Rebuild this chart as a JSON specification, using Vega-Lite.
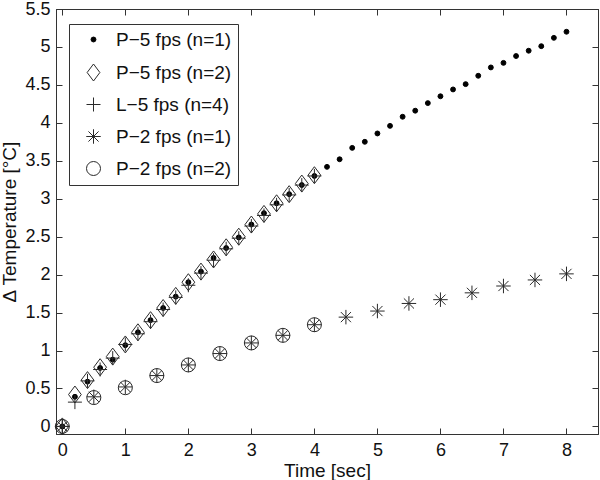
{
  "$schema": "https://vega.github.io/schema/vega-lite/v6.json",
  "width": 542,
  "height": 425,
  "autosize": "none",
  "padding": {"left": 56, "top": 9, "right": 2, "bottom": 46},
  "background": "white",
  "config": {
    "font": "Liberation Sans",
    "view": {"stroke": "#333", "strokeWidth": 1},
    "axis": {
      "labelFont": "Liberation Sans",
      "titleFont": "Liberation Sans",
      "labelFontSize": 18,
      "titleFontSize": 19,
      "titleFontWeight": "normal",
      "labelColor": "#111",
      "titleColor": "#111",
      "domainColor": "#333",
      "tickColor": "#333",
      "tickSize": -6,
      "grid": false,
      "labelPadding": 12
    },
    "legend": {
      "labelFont": "Liberation Sans",
      "labelFontSize": 19,
      "labelColor": "#111"
    }
  },
  "data": {
    "values": [
      {"series": "P\u22125 fps (n=1)", "t": 0, "v": 0},
      {"series": "P\u22125 fps (n=1)", "t": 0.2, "v": 0.39},
      {"series": "P\u22125 fps (n=1)", "t": 0.4, "v": 0.59},
      {"series": "P\u22125 fps (n=1)", "t": 0.6, "v": 0.77},
      {"series": "P\u22125 fps (n=1)", "t": 0.8, "v": 0.88},
      {"series": "P\u22125 fps (n=1)", "t": 1.0, "v": 1.07},
      {"series": "P\u22125 fps (n=1)", "t": 1.2, "v": 1.24},
      {"series": "P\u22125 fps (n=1)", "t": 1.4, "v": 1.40},
      {"series": "P\u22125 fps (n=1)", "t": 1.6, "v": 1.56},
      {"series": "P\u22125 fps (n=1)", "t": 1.8, "v": 1.71},
      {"series": "P\u22125 fps (n=1)", "t": 2.0, "v": 1.90},
      {"series": "P\u22125 fps (n=1)", "t": 2.2, "v": 2.04},
      {"series": "P\u22125 fps (n=1)", "t": 2.4, "v": 2.22},
      {"series": "P\u22125 fps (n=1)", "t": 2.6, "v": 2.35},
      {"series": "P\u22125 fps (n=1)", "t": 2.8, "v": 2.49},
      {"series": "P\u22125 fps (n=1)", "t": 3.0, "v": 2.66},
      {"series": "P\u22125 fps (n=1)", "t": 3.2, "v": 2.81},
      {"series": "P\u22125 fps (n=1)", "t": 3.4, "v": 2.94},
      {"series": "P\u22125 fps (n=1)", "t": 3.6, "v": 3.06},
      {"series": "P\u22125 fps (n=1)", "t": 3.8, "v": 3.18},
      {"series": "P\u22125 fps (n=1)", "t": 4.0, "v": 3.30},
      {"series": "P\u22125 fps (n=1)", "t": 4.2, "v": 3.42},
      {"series": "P\u22125 fps (n=1)", "t": 4.4, "v": 3.52},
      {"series": "P\u22125 fps (n=1)", "t": 4.6, "v": 3.67},
      {"series": "P\u22125 fps (n=1)", "t": 4.8, "v": 3.75},
      {"series": "P\u22125 fps (n=1)", "t": 5.0, "v": 3.86},
      {"series": "P\u22125 fps (n=1)", "t": 5.2, "v": 3.96},
      {"series": "P\u22125 fps (n=1)", "t": 5.4, "v": 4.08},
      {"series": "P\u22125 fps (n=1)", "t": 5.6, "v": 4.16},
      {"series": "P\u22125 fps (n=1)", "t": 5.8, "v": 4.26},
      {"series": "P\u22125 fps (n=1)", "t": 6.0, "v": 4.35},
      {"series": "P\u22125 fps (n=1)", "t": 6.2, "v": 4.44},
      {"series": "P\u22125 fps (n=1)", "t": 6.4, "v": 4.51},
      {"series": "P\u22125 fps (n=1)", "t": 6.6, "v": 4.62},
      {"series": "P\u22125 fps (n=1)", "t": 6.8, "v": 4.73},
      {"series": "P\u22125 fps (n=1)", "t": 7.0, "v": 4.79},
      {"series": "P\u22125 fps (n=1)", "t": 7.2, "v": 4.88},
      {"series": "P\u22125 fps (n=1)", "t": 7.4, "v": 4.95},
      {"series": "P\u22125 fps (n=1)", "t": 7.6, "v": 5.01},
      {"series": "P\u22125 fps (n=1)", "t": 7.8, "v": 5.12},
      {"series": "P\u22125 fps (n=1)", "t": 8.0, "v": 5.20},
      {"series": "P\u22125 fps (n=2)", "t": 0, "v": 0},
      {"series": "P\u22125 fps (n=2)", "t": 0.2, "v": 0.42},
      {"series": "P\u22125 fps (n=2)", "t": 0.4, "v": 0.61},
      {"series": "P\u22125 fps (n=2)", "t": 0.6, "v": 0.78},
      {"series": "P\u22125 fps (n=2)", "t": 0.8, "v": 0.92},
      {"series": "P\u22125 fps (n=2)", "t": 1.0, "v": 1.08},
      {"series": "P\u22125 fps (n=2)", "t": 1.2, "v": 1.24},
      {"series": "P\u22125 fps (n=2)", "t": 1.4, "v": 1.40},
      {"series": "P\u22125 fps (n=2)", "t": 1.6, "v": 1.56},
      {"series": "P\u22125 fps (n=2)", "t": 1.8, "v": 1.72},
      {"series": "P\u22125 fps (n=2)", "t": 2.0, "v": 1.90},
      {"series": "P\u22125 fps (n=2)", "t": 2.2, "v": 2.04},
      {"series": "P\u22125 fps (n=2)", "t": 2.4, "v": 2.20},
      {"series": "P\u22125 fps (n=2)", "t": 2.6, "v": 2.36},
      {"series": "P\u22125 fps (n=2)", "t": 2.8, "v": 2.50},
      {"series": "P\u22125 fps (n=2)", "t": 3.0, "v": 2.66},
      {"series": "P\u22125 fps (n=2)", "t": 3.2, "v": 2.80},
      {"series": "P\u22125 fps (n=2)", "t": 3.4, "v": 2.94},
      {"series": "P\u22125 fps (n=2)", "t": 3.6, "v": 3.06},
      {"series": "P\u22125 fps (n=2)", "t": 3.8, "v": 3.20},
      {"series": "P\u22125 fps (n=2)", "t": 4.0, "v": 3.31},
      {"series": "L\u22125 fps (n=4)", "t": 0, "v": 0},
      {"series": "L\u22125 fps (n=4)", "t": 0.2, "v": 0.32},
      {"series": "L\u22125 fps (n=4)", "t": 0.4, "v": 0.60},
      {"series": "L\u22125 fps (n=4)", "t": 0.6, "v": 0.75},
      {"series": "L\u22125 fps (n=4)", "t": 0.8, "v": 0.90},
      {"series": "L\u22125 fps (n=4)", "t": 1.0, "v": 1.08},
      {"series": "L\u22125 fps (n=4)", "t": 1.2, "v": 1.22},
      {"series": "L\u22125 fps (n=4)", "t": 1.4, "v": 1.38},
      {"series": "L\u22125 fps (n=4)", "t": 1.6, "v": 1.54},
      {"series": "L\u22125 fps (n=4)", "t": 1.8, "v": 1.70},
      {"series": "L\u22125 fps (n=4)", "t": 2.0, "v": 1.86},
      {"series": "L\u22125 fps (n=4)", "t": 2.2, "v": 2.02},
      {"series": "L\u22125 fps (n=4)", "t": 2.4, "v": 2.19},
      {"series": "L\u22125 fps (n=4)", "t": 2.6, "v": 2.34},
      {"series": "L\u22125 fps (n=4)", "t": 2.8, "v": 2.48},
      {"series": "L\u22125 fps (n=4)", "t": 3.0, "v": 2.64},
      {"series": "L\u22125 fps (n=4)", "t": 3.2, "v": 2.78},
      {"series": "L\u22125 fps (n=4)", "t": 3.4, "v": 2.92},
      {"series": "L\u22125 fps (n=4)", "t": 3.6, "v": 3.05},
      {"series": "L\u22125 fps (n=4)", "t": 3.8, "v": 3.18},
      {"series": "L\u22125 fps (n=4)", "t": 4.0, "v": 3.30},
      {"series": "P\u22122 fps (n=1)", "t": 0, "v": 0},
      {"series": "P\u22122 fps (n=1)", "t": 0.5, "v": 0.39},
      {"series": "P\u22122 fps (n=1)", "t": 1.0, "v": 0.52},
      {"series": "P\u22122 fps (n=1)", "t": 1.5, "v": 0.67},
      {"series": "P\u22122 fps (n=1)", "t": 2.0, "v": 0.81},
      {"series": "P\u22122 fps (n=1)", "t": 2.5, "v": 0.96},
      {"series": "P\u22122 fps (n=1)", "t": 3.0, "v": 1.10},
      {"series": "P\u22122 fps (n=1)", "t": 3.5, "v": 1.20},
      {"series": "P\u22122 fps (n=1)", "t": 4.0, "v": 1.34},
      {"series": "P\u22122 fps (n=1)", "t": 4.5, "v": 1.44},
      {"series": "P\u22122 fps (n=1)", "t": 5.0, "v": 1.52},
      {"series": "P\u22122 fps (n=1)", "t": 5.5, "v": 1.62},
      {"series": "P\u22122 fps (n=1)", "t": 6.0, "v": 1.67},
      {"series": "P\u22122 fps (n=1)", "t": 6.5, "v": 1.76},
      {"series": "P\u22122 fps (n=1)", "t": 7.0, "v": 1.85},
      {"series": "P\u22122 fps (n=1)", "t": 7.5, "v": 1.93},
      {"series": "P\u22122 fps (n=1)", "t": 8.0, "v": 2.01},
      {"series": "P\u22122 fps (n=2)", "t": 0, "v": 0},
      {"series": "P\u22122 fps (n=2)", "t": 0.5, "v": 0.38},
      {"series": "P\u22122 fps (n=2)", "t": 1.0, "v": 0.51},
      {"series": "P\u22122 fps (n=2)", "t": 1.5, "v": 0.67},
      {"series": "P\u22122 fps (n=2)", "t": 2.0, "v": 0.81},
      {"series": "P\u22122 fps (n=2)", "t": 2.5, "v": 0.96},
      {"series": "P\u22122 fps (n=2)", "t": 3.0, "v": 1.10},
      {"series": "P\u22122 fps (n=2)", "t": 3.5, "v": 1.20},
      {"series": "P\u22122 fps (n=2)", "t": 4.0, "v": 1.34}
    ]
  },
  "layer": [
    {
      "mark": {"type": "point", "strokeWidth": 1, "opacity": 1},
      "encoding": {
        "x": {
          "field": "t", "type": "quantitative",
          "scale": {"domain": [-0.1, 8.5], "nice": false, "zero": false},
          "axis": {"orient": "bottom", "title": "Time [sec]", "values": [0,1,2,3,4,5,6,7,8], "format": "~g", "labelPadding": 13, "titlePadding": 2}
        },
        "y": {
          "field": "v", "type": "quantitative",
          "scale": {"domain": [-0.1, 5.5], "nice": false, "zero": false},
          "axis": {"orient": "left", "title": "\u0394 Temperature [\u00b0C]", "values": [0,0.5,1,1.5,2,2.5,3,3.5,4,4.5,5,5.5], "format": "~g", "titlePadding": 5}
        },
        "shape": {
          "field": "series", "type": "nominal",
          "scale": {
            "domain": ["P\u22125 fps (n=1)", "P\u22125 fps (n=2)", "L\u22125 fps (n=4)", "P\u22122 fps (n=1)", "P\u22122 fps (n=2)"],
            "range": ["circle", "M0,-1L0.75,0L0,1L-0.75,0Z", "M-1,0L1,0M0,-1L0,1", "M-1,0L1,0M0,-1L0,1M-0.7,-0.7L0.7,0.7M-0.7,0.7L0.7,-0.7", "circle"]
          },
          "legend": {
            "title": null,
            "orient": "none",
            "legendX": 13,
            "legendY": 15,
            "strokeColor": "#333",
            "fillColor": "white",
            "padding": 6,
            "rowPadding": 12,
            "symbolOffset": 9,
            "labelOffset": 13,
            "symbolStrokeWidth": 1,
            "symbolType": "circle"
          }
        },
        "fill": {
          "field": "series", "type": "nominal",
          "scale": {
            "domain": ["P\u22125 fps (n=1)", "P\u22125 fps (n=2)", "L\u22125 fps (n=4)", "P\u22122 fps (n=1)", "P\u22122 fps (n=2)"],
            "range": ["black", "transparent", "transparent", "transparent", "transparent"]
          }
        },
        "stroke": {
          "field": "series", "type": "nominal",
          "scale": {
            "domain": ["P\u22125 fps (n=1)", "P\u22125 fps (n=2)", "L\u22125 fps (n=4)", "P\u22122 fps (n=1)", "P\u22122 fps (n=2)"],
            "range": ["black", "#2a2a2a", "#2a2a2a", "#2a2a2a", "#2a2a2a"]
          }
        },
        "size": {
          "field": "series", "type": "nominal",
          "scale": {
            "type": "ordinal",
            "domain": ["P\u22125 fps (n=1)", "P\u22125 fps (n=2)", "L\u22125 fps (n=4)", "P\u22122 fps (n=1)", "P\u22122 fps (n=2)"],
            "range": [24, 289, 196, 210, 196]
          }
        }
      }
    },
    {
      "mark": {"type": "point", "opacity": 0},
      "encoding": {
        "x": {"field": "t", "type": "quantitative", "axis": {"orient": "top", "title": null, "labels": false, "values": [0,1,2,3,4,5,6,7,8]}},
        "y": {"field": "v", "type": "quantitative", "axis": {"orient": "right", "title": null, "labels": false, "values": [0,0.5,1,1.5,2,2.5,3,3.5,4,4.5,5,5.5]}}
      }
    }
  ],
  "resolve": {"axis": {"x": "independent", "y": "independent"}}
}
